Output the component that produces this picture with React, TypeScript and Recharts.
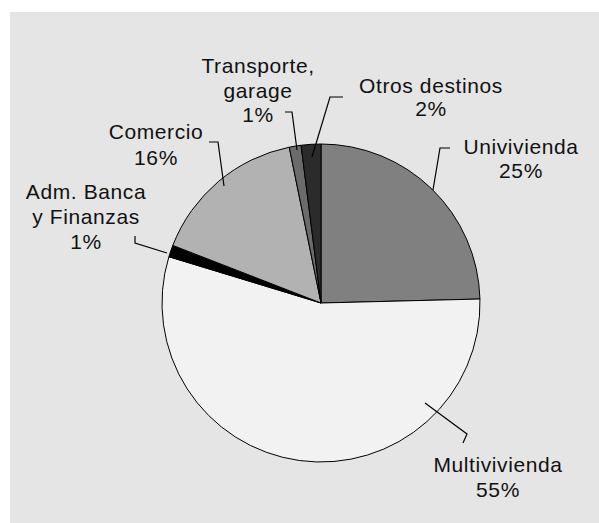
import { PieChart, Pie, Cell } from "recharts";

const categories = ["Univivienda", "Multivivienda", "Adm. Banca\ny Finanzas", "Comercio", "Transporte,\ngarage", "Otros destinos"];
const shares = [24.6, 55.1, 1.2, 15.9, 1.2, 2.0];
const COLORS = ["#808080", "#f2f2f2", "#000000", "#b2b2b2", "#6b6b6b", "#2b2b2b"];

// leader line (start, elbow, end) and text anchor, offsets from pie centre
const LAYOUT = [
  { pts: [[112, -113], [119, -155], [129, -155]], tx: 200, ty: -149, lh: 24 },
  { pts: [[104, 100], [146, 131], [142, 140]], tx: 177, ty: 169, lh: 25 },
  { pts: [[-154, -50], [-186, -60], [-186, -67]], tx: -235, ty: -104, lh: 25 },
  { pts: [[-97, -117], [-103, -161], [-112, -161]], tx: -165, ty: -164, lh: 26 },
  { pts: [[-24, -153], [-29, -191], [-36, -191]], tx: -63, ty: -230, lh: 24.5 },
  { pts: [[-9, -146], [9, -206], [22, -206]], tx: 110, ty: -210, lh: 23 },
];

const data = categories.map((name, i) => ({ name, value: shares[i] }));

function renderLabel(props: any) {
  const { cx, cy, index, percent } = props;
  const l = LAYOUT[index];
  const lines = [...categories[index].split("\n"), `${Math.round(percent * 100)}%`];
  const d = l.pts.map((p, i) => `${i ? "L" : "M"}${cx + p[0]},${cy + p[1]}`).join(" ");
  return (
    <g key={`lbl-${index}`}>
      <path d={d} stroke="#000" strokeWidth={1.2} fill="none" />
      {lines.map((t, j) => (
        <text key={j} x={cx + l.tx} y={cy + l.ty + j * l.lh} textAnchor="middle" fill="#111"
          fontFamily="'Liberation Sans', Arial, sans-serif" fontSize={21} letterSpacing={0.6}>
          {t}
        </text>
      ))}
    </g>
  );
}

export default function App() {
  return (
    <div style={{ position: "absolute", left: 10, top: 12, width: 589, height: 511, background: "#e5e5e5" }}>
      <PieChart width={589} height={511} margin={{ top: 0, right: 0, bottom: 0, left: 0 }}>
        <Pie data={data} dataKey="value" cx={311} cy={291} outerRadius={159} startAngle={90} endAngle={-270}
          label={renderLabel} labelLine={false} isAnimationActive={false}>
          {data.map((d, i) => <Cell key={i} fill={COLORS[i]} stroke="#000" strokeWidth={1} />)}
        </Pie>
      </PieChart>
    </div>
  );
}
